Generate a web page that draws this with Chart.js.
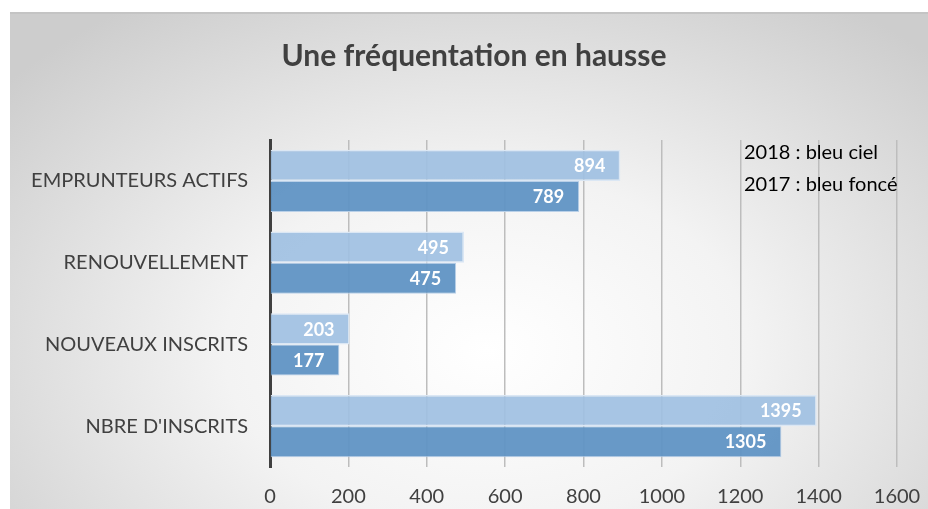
<!DOCTYPE html>
<html lang="fr">
<head>
    <meta charset="UTF-8" />
    <title>Une fréquentation en hausse</title>
    <script src="https://cdn.jsdelivr.net/npm/chart.js"></script>
    <style>
        body {
            margin: 0;
            background: #fff;
        }
        .frame {
            position: absolute;
            left: 10px;
            top: 12px;
            width: 918px;
            height: 497px;
            border-top: 2px solid #c4c4c4;
            box-sizing: border-box;
            background: radial-gradient(ellipse 68% 85% at 52% 68%, #ffffff 0%, #f3f3f3 42%, #cdcdcd 100%);
        }
        .wrap {
            position: absolute;
            left: 0;
            top: 0;
            width: 928px;
            height: 509px;
        }
    </style>
</head>
<body>
    <div class="frame"></div>
    <div class="wrap"><canvas id="chart"></canvas></div>

    <script>
        const chartTitle = 'Une fréquentation en hausse';
        const categories = ['EMPRUNTEURS ACTIFS', 'RENOUVELLEMENT', 'NOUVEAUX INSCRITS', "NBRE D'INSCRITS"];
        const values2018 = [894, 495, 203, 1395];
        const values2017 = [789, 475, 177, 1305];
        const seriesNames = ['2018', '2017'];
        const legendNotes = ['2018 : bleu ciel', '2017 : bleu foncé'];
        const xTicks = [0, 200, 400, 600, 800, 1000, 1200, 1400, 1600];

        const FONT = 'Lato, "Open Sans", sans-serif';

        // white values inside the end of each bar
        const barValues = {
            id: 'barValues',
            afterDatasetsDraw(chart) {
                const ctx = chart.ctx;
                ctx.save();
                ctx.font = 'bold 18px ' + FONT;
                ctx.fillStyle = '#ffffff';
                ctx.textAlign = 'right';
                ctx.textBaseline = 'middle';
                chart.data.datasets.forEach((ds, i) => {
                    chart.getDatasetMeta(i).data.forEach((bar, j) => {
                        ctx.fillText(ds.data[j], bar.x - 15, bar.y + 1);
                    });
                });
                ctx.restore();
            }
        };

        // title (a bit right of the canvas centre, like the frame) and the two note lines
        const texts = {
            id: 'texts',
            afterDraw(chart) {
                const ctx = chart.ctx;
                ctx.save();
                ctx.font = 'bold 30px ' + FONT;
                ctx.fillStyle = '#404040';
                ctx.textAlign = 'center';
                ctx.textBaseline = 'middle';
                ctx.fillText(chartTitle, 474, 56);

                ctx.font = '20px ' + FONT;
                ctx.fillStyle = '#000000';
                ctx.textAlign = 'left';
                legendNotes.forEach((t, i) => {
                    ctx.fillText(t, 744, 153 + i * 32);
                });
                ctx.restore();
            }
        };

        const chart = new Chart(document.getElementById('chart'), {
            type: 'bar',
            data: {
                labels: categories,
                datasets: [{
                    label: seriesNames[0],
                    data: values2018,
                    backgroundColor: 'rgba(160, 192, 226, 0.92)',
                    borderColor: '#dbe7f4',
                    borderWidth: 1.5
                }, {
                    label: seriesNames[1],
                    data: values2017,
                    backgroundColor: 'rgba(96, 148, 196, 0.95)',
                    borderColor: '#b9d0e8',
                    borderWidth: 1
                }]
            },
            options: {
                indexAxis: 'y',
                responsive: true,
                maintainAspectRatio: false,
                animation: false,
                layout: { padding: { left: 10, right: 31, top: 140, bottom: 0 } },
                plugins: {
                    legend: { display: false },
                    tooltip: { enabled: false },
                    title: { display: false }
                },
                datasets: {
                    bar: { categoryPercentage: 0.76, barPercentage: 1 }
                },
                scales: {
                    x: {
                        min: 0,
                        max: 1600,
                        afterBuildTicks(scale) {
                            scale.ticks = xTicks.map(v => ({ value: v }));
                        },
                        afterFit(scale) {
                            scale.height = 42;
                            scale.paddingRight = 0;
                            scale.paddingLeft = 0;
                        },
                        grid: { color: '#bdbdbd', lineWidth: 1.5, drawTicks: false },
                        border: { display: false },
                        ticks: {
                            color: '#404040',
                            padding: 18,
                            font: { family: FONT, size: 20 },
                            callback: v => String(v)
                        }
                    },
                    y: {
                        afterFit(scale) { scale.width = 260; },
                        grid: { display: false, drawTicks: false },
                        border: { display: true, color: '#404040', width: 3 },
                        ticks: {
                            color: '#404040',
                            padding: 22,
                            font: { family: FONT, size: 20 }
                        }
                    }
                }
            },
            plugins: [barValues, texts]
        });
    </script>
</body>
</html>
